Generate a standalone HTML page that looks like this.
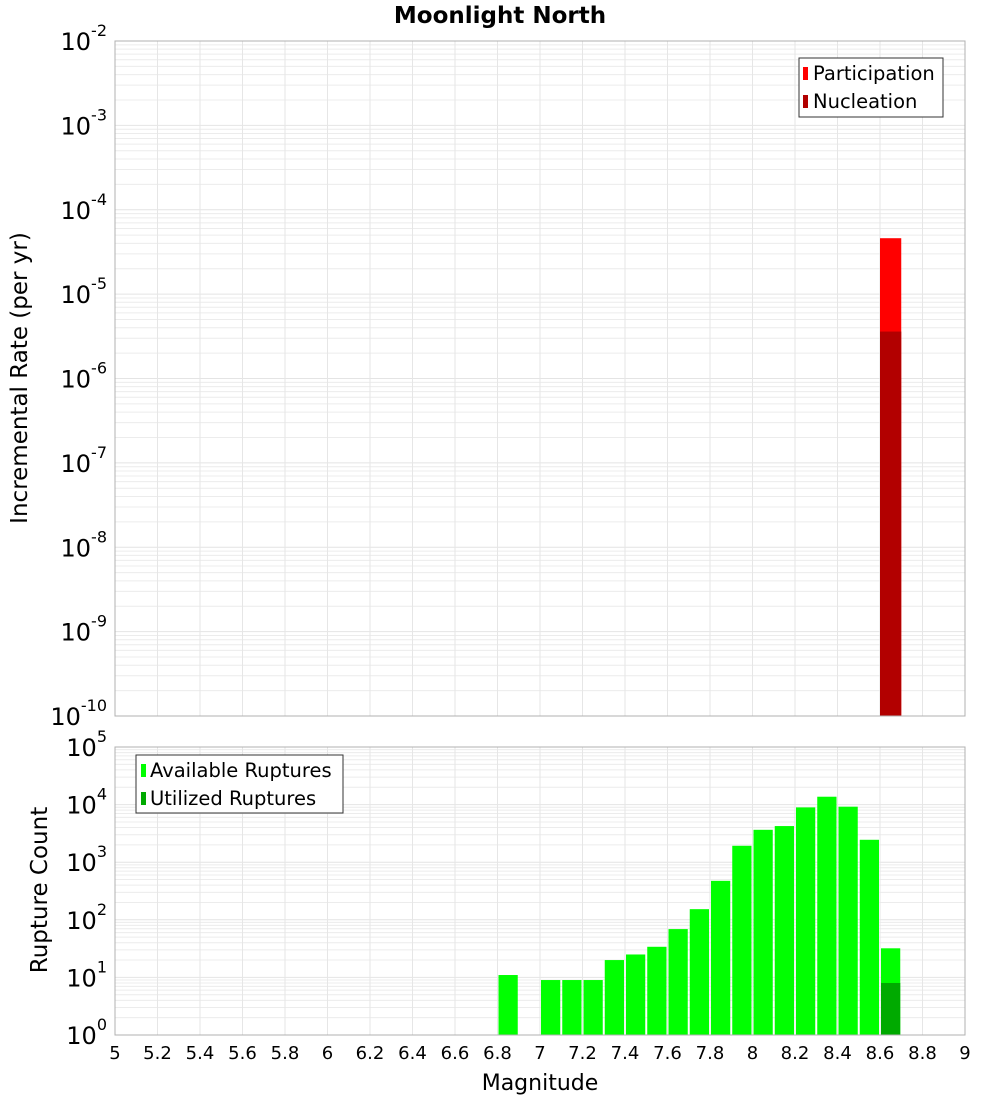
<!DOCTYPE html>
<html><head><meta charset="utf-8"><style>
body{margin:0;background:#fff;}
svg{display:block;font-family:"DejaVu Sans","Liberation Sans",sans-serif;}
</style></head><body>
<svg id="c" width="1000" height="1100" xmlns="http://www.w3.org/2000/svg">
<text x="500" y="23" text-anchor="middle" font-size="23" font-weight="bold">Moonlight North</text>
<g id="gtop"></g>
<g id="gbot"></g>
<text transform="translate(27,378) rotate(-90)" text-anchor="middle" font-size="23">Incremental Rate (per yr)</text>
<text transform="translate(47,890) rotate(-90)" text-anchor="middle" font-size="23">Rupture Count</text>
<text x="540" y="1090" text-anchor="middle" font-size="22">Magnitude</text>
<g>
<rect x="799" y="58" width="144" height="59" fill="#fff" stroke="#333" stroke-width="1"/>
<rect x="803" y="67" width="5" height="13" fill="#ff0000"/>
<text x="813" y="80" font-size="19.5">Participation</text>
<rect x="803" y="95" width="5" height="13" fill="#b20000"/>
<text x="813" y="108" font-size="19.5">Nucleation</text>
</g>
<g>
<rect x="136" y="755" width="207" height="58" fill="#fff" stroke="#333" stroke-width="1"/>
<rect x="141" y="764" width="5" height="13" fill="#00ff00"/>
<text x="150" y="777" font-size="19.5">Available Ruptures</text>
<rect x="141" y="792" width="5" height="13" fill="#00aa00"/>
<text x="150" y="805" font-size="19.5">Utilized Ruptures</text>
</g>
</svg>
<script>
const mags = [6.85,7.05,7.15,7.25,7.35,7.45,7.55,7.65,7.75,7.85,7.95,8.05,8.15,8.25,8.35,8.45,8.55,8.65];
const available = [11,9,9,9,20,25,34,69,153,475,1928,3650,4240,8940,13700,9200,2450,32];
const utilizedMags = [8.65];
const utilized = [8];
const rateMags = [8.65];
const participation = [4.6e-5];
const nucleation = [3.6e-6];
const xTicks = [5,5.2,5.4,5.6,5.8,6,6.2,6.4,6.6,6.8,7,7.2,7.4,7.6,7.8,8,8.2,8.4,8.6,8.8,9];
const topExps = [-2,-3,-4,-5,-6,-7,-8,-9,-10];
const botExps = [5,4,3,2,1,0];

const NS="http://www.w3.org/2000/svg";
const X0=115,X1=965;
const xs=m=>X0+(m-5)/4*(X1-X0);
const T0=41,T1=716,B0=747,B1=1035;
const yT=v=>T0+(-2-Math.log10(v))/8*(T1-T0);
const yB=v=>B0+(5-Math.log10(v))/5*(B1-B0);
function mk(p,t,a){const e=document.createElementNS(NS,t);for(const k in a)e.setAttribute(k,a[k]);p.appendChild(e);return e;}

function frame(g,t0,t1,lo,hi,yf){
  for(let d=lo;d<hi;d++)for(let k=1;k<10;k++){const yy=yf(k*Math.pow(10,d));
    const l=mk(g,'line',{x1:X0,x2:X1,y1:yy,y2:yy,stroke:k===1?'#e4e4e4':'#ececec','stroke-width':1});
    
    }
  xTicks.forEach(t=>{const l=mk(g,'line',{x1:xs(t),x2:xs(t),y1:t0,y2:t1,stroke:'#e6e6e6','stroke-width':1});
    
    });
}
const gTop=document.getElementById('gtop'),gBot=document.getElementById('gbot');
frame(gTop,T0,T1,-10,-2,yT);
frame(gBot,B0,B1,0,5,yB);
const bw=(xs(5.1)-xs(5))-2;
rateMags.forEach((m,i)=>{
  const r=mk(gTop,'rect',{x:xs(m)-bw/2-1,y:yT(participation[i]),width:bw+2,height:T1-yT(participation[i]),fill:'#ff0000'});
  
  
  const n=mk(gTop,'rect',{x:xs(m)-bw/2-1,y:yT(nucleation[i]),width:bw+2,height:T1-yT(nucleation[i]),fill:'#b20000'});
  
  
});
mags.forEach((m,i)=>{
  const r=mk(gBot,'rect',{x:xs(m)-bw/2,y:yB(available[i]),width:bw,height:B1-yB(available[i]),fill:'#00ff00'});
  
  
});
utilizedMags.forEach((m,i)=>{
  const r=mk(gBot,'rect',{x:xs(m)-bw/2,y:yB(utilized[i]),width:bw,height:B1-yB(utilized[i]),fill:'#00aa00'});
  
  
});
mk(gTop,'rect',{x:X0,y:T0,width:X1-X0,height:T1-T0,fill:'none',stroke:'#b0b0b0'});
mk(gBot,'rect',{x:X0,y:B0,width:X1-X0,height:B1-B0,fill:'none',stroke:'#b0b0b0'});
function ylab(g,e,yy){
  const t=mk(g,'text',{x:107,y:yy+9,'text-anchor':'end','font-size':24});
  
  
  t.appendChild(document.createTextNode('10'));
  const s=mk(t,'tspan',{dy:-14,'font-size':16});s.textContent=String(e);
}
topExps.forEach(e=>ylab(gTop,e,yT(Math.pow(10,e))));
botExps.forEach(e=>ylab(gBot,e,yB(Math.pow(10,e))));
xTicks.forEach(t=>{const l=mk(gBot,'text',{x:xs(t),y:1059,'text-anchor':'middle','font-size':18});
  
  
  l.textContent=String(t);});
</script>
</body></html>
